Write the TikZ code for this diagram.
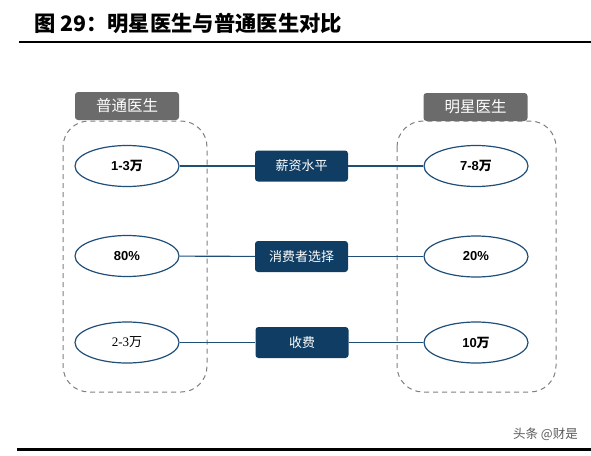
\documentclass[tikz,border=0pt]{standalone}
\usepackage{fontspec}
\setmainfont{Liberation Sans}
\newfontfamily\cjk{Noto Sans CJK SC}
\newfontfamily\numserif{Liberation Serif}
\usepackage{xcolor}
\usetikzlibrary{positioning,shapes.geometric}

\definecolor{navy}{HTML}{0F3D63}
\definecolor{linkblue}{HTML}{1F4E79}
\definecolor{labelgray}{HTML}{6B6B6B}
\definecolor{dashgray}{HTML}{7F7F7F}
\definecolor{markgray}{HTML}{5A5A5A}

\tikzset{
	grouplabel/.style={fill=labelgray, rounded corners=3pt, text=white,
		minimum width=104pt, minimum height=28pt, inner sep=0pt,
		font=\cjk\fontsize{15.5}{15.5}\selectfont},
	groupframe/.style={draw=dashgray, line width=1pt,
		dash pattern=on 5pt off 4pt, rounded corners=26pt},
	valueell/.style={ellipse, draw=linkblue, line width=1.2pt, fill=white,
		minimum width=104pt, minimum height=41pt, inner sep=0pt,
		font=\bfseries\fontsize{13}{13}\selectfont},
	itembox/.style={fill=navy, rounded corners=3pt, text=white,
		minimum width=93pt, minimum height=31pt, inner sep=0pt,
		font=\cjk\fontsize{13}{13}\selectfont},
	link/.style={draw=linkblue, line width=1.1pt}
}

\begin{document}
\begin{tikzpicture}[x=1pt,y=-1pt]
	\useasboundingbox (0,0) rectangle (591,455);
	
	% title and rules
	\node[anchor=west, inner sep=0pt, font=\cjk\bfseries\fontsize{21.3}{21.3}\selectfont]
		(title) at (34,23) {图 29：明星医生与普通医生对比};
	\draw[line width=2pt] (19,41.5) -- (591,41.5);
	\draw[line width=3pt] (17,449) -- (591,449);
	\node[anchor=east, inner sep=0pt, text=markgray, font=\cjk\fontsize{12.5}{12.5}\selectfont]
		(mark) at (578,434) {头条 @财是};
	
	% dashed groups
	\draw[groupframe] (63,121) rectangle (207,392);
	\draw[groupframe] (397,121) rectangle (556,392);
	\node[grouplabel] (plainlab) at (127,106) {普通医生};
	\node[grouplabel] (starlab) at (475.5,107) {明星医生};
	
	% left values
	\node[valueell] (plain1) at (127,166) {1-3{\cjk 万}};
	\node[valueell] (plain2) at (127,256) {80\%};
	\node[valueell, font=\numserif\fontsize{13}{13}\selectfont] (plain3) at (127,342.5) {2-3{\cjk 万}};
	
	% items
	\node[itembox] (item1) at (301.5,166) {薪资水平};
	\node[itembox] (item2) at (301.5,256.5) {消费者选择};
	\node[itembox] (item3) at (302,342.5) {收费};
	
	% right values
	\node[valueell] (star1) at (476,166) {7-8{\cjk 万}};
	\node[valueell] (star2) at (476,256.5) {20\%};
	\node[valueell] (star3) at (476,342.5) {10{\cjk 万}};
	
	% connectors
	\draw[link] (plain1) -- (item1);
	\draw[link] (item1) -- (star1);
	\draw[link] (plain2) -- (item2);
	\draw[link] (item2) -- (star2);
	\draw[link] (plain3) -- (item3);
	\draw[link] (item3) -- (star3);
\end{tikzpicture}
\end{document}
